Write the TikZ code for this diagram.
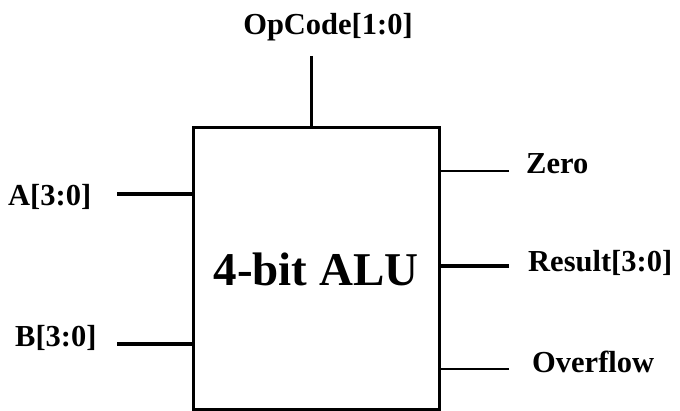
\documentclass[tikz,border=0pt]{standalone}
\usepackage{fontspec}
\setmainfont{Liberation Serif}
\begin{document}
\begin{tikzpicture}[x=1pt,y=-1pt,
  lbl/.style={anchor=base west,inner sep=0pt,font=\fontsize{30.5}{36}\selectfont\bfseries},
  bus/.style={line width=4pt},
  wire/.style={line width=1.5pt}]
\useasboundingbox (0,0) rectangle (680,411);
\node[draw,line width=3pt,minimum width=246pt,minimum height=282pt,inner sep=0pt] (box) at (316,269) {};
\node[anchor=base,inner sep=0pt,font=\fontsize{47}{54}\selectfont\bfseries] (title) at (316,286) {4-bit ALU};
% labels
\node[lbl,anchor=base] (op) at (328,35) {OpCode[1:0]};
\node[lbl] (la) at (8,206) {A[3:0]};
\node[lbl] (lb) at (15,347) {B[3:0]};
\node[lbl] (lz) at (526,174) {Zero};
\node[lbl] (lr) at (528,272) {Result[3:0]};
\node[lbl] (lo) at (532,373) {Overflow};
% pin ends
\coordinate (opE) at (311,56);
\coordinate (aE) at (117,194);
\coordinate (bE) at (117,344);
\coordinate (zE) at (509,171);
\coordinate (rE) at (509,266);
\coordinate (oE) at (509,369);
\draw[line width=3pt] (opE) -- (opE |- box.north);
\draw[bus] (aE) -- (aE -| box.west);
\draw[bus] (bE) -- (bE -| box.west);
\draw[wire] (zE) -- (zE -| box.east);
\draw[bus] (rE) -- (rE -| box.east);
\draw[wire] (oE) -- (oE -| box.east);
\end{tikzpicture}
\end{document}
